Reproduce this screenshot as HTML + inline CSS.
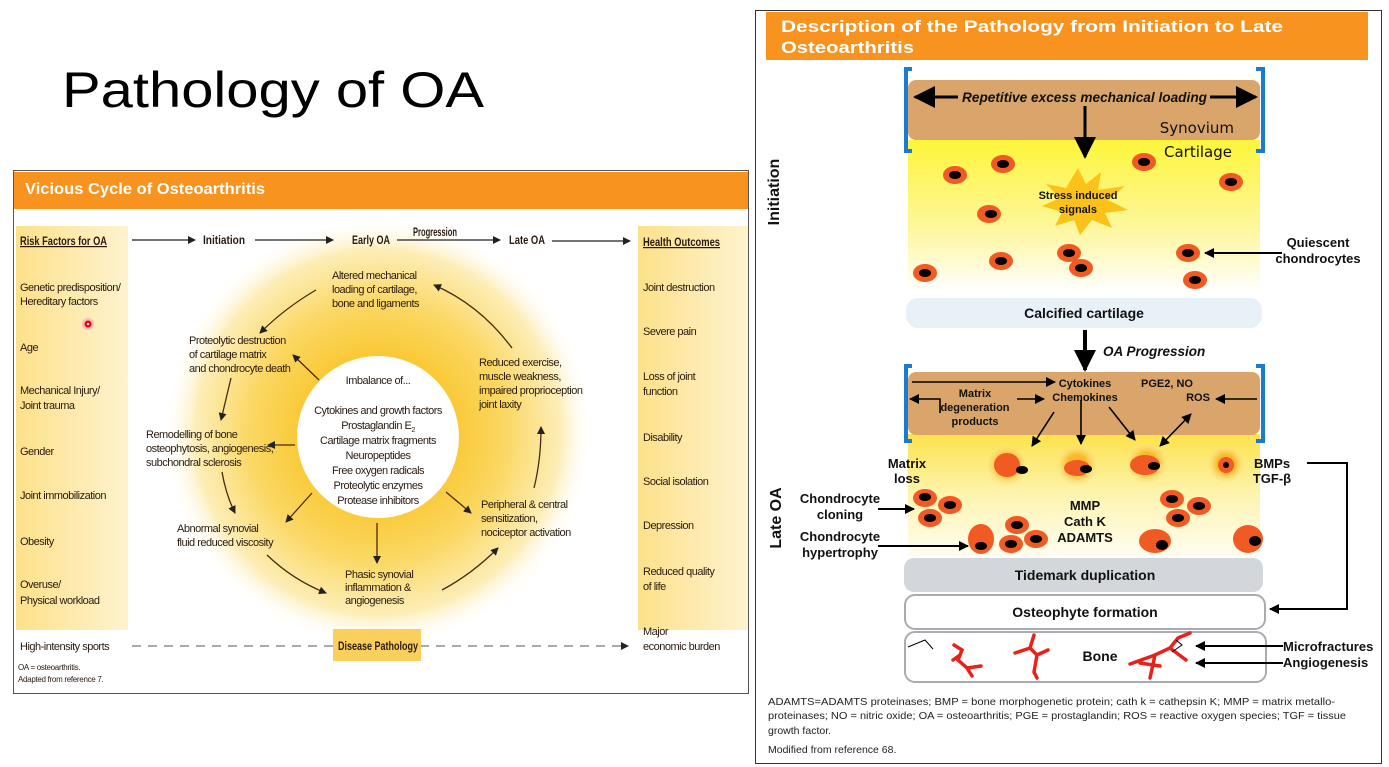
<!DOCTYPE html>
<html><head><meta charset="utf-8"><style>
html,body{margin:0;padding:0;background:#fff;width:1389px;height:767px;overflow:hidden}
svg{display:block}
.n{font-family:"Liberation Sans Narrow","Liberation Sans",sans-serif;font-size:11px;letter-spacing:-0.5px;fill:#2a1a10}
.b{font-family:"Liberation Sans",sans-serif;font-weight:bold;fill:#111}
</style></head><body>
<svg width="1389" height="767" viewBox="0 0 1389 767" xmlns="http://www.w3.org/2000/svg">
<defs>
<radialGradient id="glow" cx="0.5" cy="0.5" r="0.5">
<stop offset="0.3" stop-color="#f9c52a"/><stop offset="0.6" stop-color="#fbd865"/><stop offset="0.85" stop-color="#fdeeb8"/><stop offset="1" stop-color="#fff" stop-opacity="0"/>
</radialGradient>
<linearGradient id="col" x1="0" x2="1"><stop offset="0" stop-color="#fde18a"/><stop offset="1" stop-color="#fef3cf"/></linearGradient>
<linearGradient id="cart" x1="0" y1="0" x2="0" y2="1"><stop offset="0" stop-color="#fdf53a"/><stop offset="0.6" stop-color="#fdf7a0"/><stop offset="1" stop-color="#fff"/></linearGradient>
<linearGradient id="cart2" x1="0" y1="0" x2="0" y2="1"><stop offset="0" stop-color="#fde24a"/><stop offset="0.5" stop-color="#fdf4b0"/><stop offset="1" stop-color="#fffdf0"/></linearGradient>
<radialGradient id="halo"><stop offset="0.5" stop-color="#f9b92a"/><stop offset="1" stop-color="#fde38a" stop-opacity="0.3"/></radialGradient>
<marker id="a" markerWidth="8" markerHeight="8" refX="7" refY="4" orient="auto" markerUnits="userSpaceOnUse"><path d="M0,0 L8,4 L0,8 z" fill="#222"/></marker>
<marker id="ab" markerWidth="10" markerHeight="10" refX="9" refY="5" orient="auto" markerUnits="userSpaceOnUse"><path d="M0,0 L10,5 L0,10 z" fill="#000"/></marker>
<marker id="ab2" markerWidth="10" markerHeight="10" refX="1" refY="5" orient="auto" markerUnits="userSpaceOnUse"><path d="M10,0 L0,5 L10,10 z" fill="#000"/></marker>
<marker id="big" markerWidth="22" markerHeight="22" refX="20" refY="11" orient="auto" markerUnits="userSpaceOnUse"><path d="M0,0 L22,11 L0,22 z" fill="#000"/></marker>
</defs>

<text x="62" y="107" font-family="Liberation Sans,sans-serif" font-size="50" fill="#000" textLength="422" lengthAdjust="spacingAndGlyphs">Pathology of OA</text>

<!-- LEFT PANEL -->
<rect x="13.5" y="170.5" width="735" height="523" fill="#fff" stroke="#555"/>
<rect x="14" y="172" width="734" height="37" fill="#f7931e"/>
<text x="25" y="194" class="b" font-size="16" style="fill:#fff" textLength="240" lengthAdjust="spacingAndGlyphs">Vicious Cycle of Osteoarthritis</text>
<rect x="16" y="226" width="112" height="404" fill="url(#col)"/>
<rect x="638" y="226" width="110" height="404" fill="url(#col)"/>
<circle cx="378" cy="432" r="215" fill="url(#glow)"/>
<circle cx="378" cy="437" r="81" fill="#fff"/>
<circle cx="88" cy="324" r="6" fill="#fbb"/><circle cx="88" cy="324" r="3.5" fill="#e00"/><circle cx="88" cy="324" r="1.3" fill="#fdd"/>

<g class="n" font-weight="bold" style="letter-spacing:0;font-size:12px">
<text x="20" y="245" text-decoration="underline" textLength="87" lengthAdjust="spacingAndGlyphs">Risk Factors for OA</text>
<text x="203" y="244" textLength="42" lengthAdjust="spacingAndGlyphs">Initiation</text>
<text x="352" y="244" textLength="38" lengthAdjust="spacingAndGlyphs">Early OA</text>
<text x="413" y="236" textLength="44" lengthAdjust="spacingAndGlyphs">Progression</text>
<text x="509" y="244" textLength="36" lengthAdjust="spacingAndGlyphs">Late OA</text>
<text x="643" y="246" text-decoration="underline" textLength="77" lengthAdjust="spacingAndGlyphs">Health Outcomes</text>
</g>
<g stroke="#222" stroke-width="1.2" marker-end="url(#a)">
<line x1="132" y1="240" x2="195" y2="240"/><line x1="255" y1="240" x2="333" y2="240"/>
<line x1="397" y1="240" x2="500" y2="240"/><line x1="552" y1="241" x2="630" y2="241"/>
</g>
<g class="n">
<text x="20" y="291">Genetic predisposition/</text><text x="20" y="305">Hereditary factors</text>
<text x="20" y="351">Age</text>
<text x="20" y="394">Mechanical Injury/</text><text x="20" y="409">Joint trauma</text>
<text x="20" y="455">Gender</text>
<text x="20" y="499">Joint immobilization</text>
<text x="20" y="545">Obesity</text>
<text x="20" y="588">Overuse/</text><text x="20" y="604">Physical workload</text>
<text x="20" y="650">High-intensity sports</text>
<text x="643" y="291">Joint destruction</text>
<text x="643" y="335">Severe pain</text>
<text x="643" y="380">Loss of joint</text><text x="643" y="395">function</text>
<text x="643" y="441">Disability</text>
<text x="643" y="485">Social isolation</text>
<text x="643" y="529">Depression</text>
<text x="643" y="575">Reduced quality</text><text x="643" y="590">of life</text>
<text x="643" y="635">Major</text><text x="643" y="650">economic burden</text>
<text x="332" y="279">Altered mechanical</text><text x="332" y="293">loading of cartilage,</text><text x="332" y="307">bone and ligaments</text>
<text x="189" y="344">Proteolytic destruction</text><text x="189" y="358">of cartilage matrix</text><text x="189" y="372">and chondrocyte death</text>
<text x="146" y="438">Remodelling of bone</text><text x="146" y="452">osteophytosis, angiogenesis,</text><text x="146" y="466">subchondral sclerosis</text>
<text x="177" y="532">Abnormal synovial</text><text x="177" y="546">fluid reduced viscosity</text>
<text x="345" y="578">Phasic synovial</text><text x="345" y="591">inflammation &amp;</text><text x="345" y="604">angiogenesis</text>
<text x="481" y="508">Peripheral &amp; central</text><text x="481" y="522">sensitization,</text><text x="481" y="536">nociceptor activation</text>
<text x="479" y="366">Reduced exercise,</text><text x="479" y="380">muscle weakness,</text><text x="479" y="394">impaired proprioception</text><text x="479" y="408">joint laxity</text>
</g>
<g class="n" text-anchor="middle">
<text x="378" y="384">Imbalance of...</text>
<text x="378" y="414">Cytokines and growth factors</text>
<text x="378" y="429">Prostaglandin E<tspan style="font-size:7px" dy="3">2</tspan></text>
<text x="378" y="444">Cartilage matrix fragments</text>
<text x="378" y="459">Neuropeptides</text>
<text x="378" y="474">Free oxygen radicals</text>
<text x="378" y="489">Proteolytic enzymes</text>
<text x="378" y="504">Protease inhibitors</text>
</g>
<g stroke="#4a2a10" stroke-width="1.3" fill="none" marker-end="url(#a)">
<path d="M316,290 Q285,308 260,333"/>
<path d="M231,378 L221,420"/>
<path d="M222,472 Q226,495 235,513"/>
<path d="M267,555 Q293,580 326,593"/>
<path d="M442,590 Q472,574 498,548"/>
<path d="M534,488 Q541,460 541,427"/>
<path d="M512,348 Q480,305 434,285"/>
<path d="M319,380 L293,355"/><path d="M295,445 L268,445"/><path d="M312,493 L286,522"/>
<path d="M377,523 L377,563"/><path d="M446,492 L471,513"/>
</g>
<line x1="132" y1="646" x2="628" y2="646" stroke="#777" stroke-width="1.3" stroke-dasharray="9,7" marker-end="url(#a)"/>
<rect x="333" y="629" width="88" height="32" fill="#fbcf5c"/>
<text x="338" y="650" class="n" font-weight="bold" style="letter-spacing:0;font-size:12px" textLength="80" lengthAdjust="spacingAndGlyphs">Disease Pathology</text>
<text x="18" y="670" class="n" style="letter-spacing:-0.3px;font-size:8px">OA = osteoarthritis.</text>
<text x="18" y="682" class="n" style="letter-spacing:-0.3px;font-size:8px">Adapted from reference 7.</text>

<!-- RIGHT PANEL -->
<rect x="755.5" y="10.5" width="626" height="753" fill="#fff" stroke="#333"/>
<rect x="766" y="12" width="602" height="48" fill="#f7931e"/>
<text x="781" y="32" class="b" font-size="17" style="fill:#fff" textLength="502" lengthAdjust="spacingAndGlyphs">Description of the Pathology from Initiation to Late</text>
<text x="781" y="53" class="b" font-size="17" style="fill:#fff" textLength="133" lengthAdjust="spacingAndGlyphs">Osteoarthritis</text>

<rect x="908" y="140" width="352" height="152" fill="url(#cart)"/>
<rect x="908" y="80" width="352" height="60" rx="8" fill="#d9a56a"/>
<path d="M912,69 H906 V151 H912 M1256,69 H1263 V151 H1256" fill="none" stroke="#1c7ad0" stroke-width="4"/>
<text x="962" y="102" class="b" font-size="14" font-style="italic" textLength="245" lengthAdjust="spacingAndGlyphs">Repetitive excess mechanical loading</text>
<line x1="958" y1="97" x2="915" y2="97" stroke="#000" stroke-width="3" marker-end="url(#big)"/>
<line x1="1210" y1="97" x2="1256" y2="97" stroke="#000" stroke-width="3" marker-end="url(#big)"/>
<line x1="1085" y1="106" x2="1085" y2="157" stroke="#000" stroke-width="3" marker-end="url(#big)"/>
<text x="1234" y="133" font-family="DejaVu Sans,sans-serif" font-size="15" text-anchor="end" fill="#111">Synovium</text>
<text x="1232" y="157" font-family="DejaVu Sans,sans-serif" font-size="15" text-anchor="end" fill="#111">Cartilage</text>
<path d="M1078,168 L1086,184 L1101,172 L1098,190 L1125,186 L1108,200 L1128,210 L1105,213 L1112,228 L1092,220 L1080,235 L1074,220 L1055,226 L1062,212 L1042,206 L1060,198 L1046,184 L1066,188 Z" fill="#fbc21a"/>
<text x="1078" y="199" class="b" font-size="11" text-anchor="middle">Stress induced</text>
<text x="1078" y="213" class="b" font-size="11" text-anchor="middle">signals</text>
<g fill="#f15a22">
<ellipse cx="955" cy="175" rx="12" ry="9"/><ellipse cx="1003" cy="164" rx="12" ry="9"/><ellipse cx="1144" cy="162" rx="12" ry="9"/><ellipse cx="1231" cy="182" rx="12" ry="9"/><ellipse cx="989" cy="214" rx="12" ry="9"/><ellipse cx="1001" cy="261" rx="12" ry="9"/><ellipse cx="1069" cy="253" rx="12" ry="9"/><ellipse cx="1081" cy="268" rx="12" ry="9"/><ellipse cx="1188" cy="253" rx="12" ry="9"/><ellipse cx="1195" cy="280" rx="12" ry="9"/><ellipse cx="925" cy="273" rx="12" ry="9"/>
</g>
<g fill="#000">
<ellipse cx="955" cy="175" rx="6" ry="4"/><ellipse cx="1003" cy="164" rx="6" ry="4"/><ellipse cx="1144" cy="162" rx="6" ry="4"/><ellipse cx="1231" cy="182" rx="6" ry="4"/><ellipse cx="991" cy="214" rx="6" ry="4"/><ellipse cx="1001" cy="261" rx="6" ry="4"/><ellipse cx="1069" cy="253" rx="6" ry="4"/><ellipse cx="1081" cy="268" rx="6" ry="4"/><ellipse cx="1188" cy="253" rx="6" ry="4"/><ellipse cx="1195" cy="280" rx="6" ry="4"/><ellipse cx="925" cy="273" rx="6" ry="4"/>
</g>
<text x="779" y="192" class="b" font-size="16" text-anchor="middle" transform="rotate(-90 779 192)">Initiation</text>
<line x1="1282" y1="253" x2="1205" y2="253" stroke="#000" stroke-width="2" marker-end="url(#ab)"/>
<text x="1318" y="247" class="b" font-size="13" text-anchor="middle">Quiescent</text>
<text x="1318" y="263" class="b" font-size="13" text-anchor="middle">chondrocytes</text>

<rect x="906" y="298" width="356" height="30" rx="12" fill="#e8f0f8"/>
<text x="1084" y="318" class="b" font-size="14" text-anchor="middle">Calcified cartilage</text>
<line x1="1085" y1="330" x2="1085" y2="370" stroke="#000" stroke-width="4" marker-end="url(#big)"/>
<text x="1103" y="356" class="b" font-size="13.5" font-style="italic">OA Progression</text>

<rect x="908" y="434" width="352" height="122" fill="url(#cart2)"/>
<rect x="908" y="372" width="352" height="63" rx="8" fill="#d9a56a"/>
<path d="M912,366 H906 V441 H912 M1256,366 H1263 V441 H1256" fill="none" stroke="#1c7ad0" stroke-width="4"/>
<g class="b" font-size="11" text-anchor="middle">
<text x="1085" y="387">Cytokines</text><text x="1085" y="401">Chemokines</text>
<text x="975" y="397">Matrix</text><text x="975" y="411">degeneration</text><text x="975" y="425">products</text>
<text x="1167" y="387">PGE2, NO</text><text x="1198" y="401">ROS</text>
</g>
<g stroke="#000" stroke-width="1.6" fill="none" marker-end="url(#ab)">
<line x1="912" y1="382" x2="1055" y2="382"/>
<line x1="1017" y1="399" x2="1044" y2="399"/>
<path d="M940,413 V399 H910"/>
<line x1="1257" y1="399" x2="1216" y2="399"/>
<line x1="1054" y1="412" x2="1032" y2="446"/>
<line x1="1081" y1="400" x2="1081" y2="444"/>
<line x1="1109" y1="407" x2="1135" y2="440"/>
<line x1="1160" y1="446" x2="1191" y2="414" marker-start="url(#ab2)"/>
</g>
<g class="b" font-size="13" text-anchor="middle">
<text x="907" y="468">Matrix</text><text x="907" y="483">loss</text>
<text x="1272" y="468">BMPs</text><text x="1272" y="483">TGF-β</text>
<text x="1085" y="510">MMP</text><text x="1085" y="526">Cath K</text><text x="1085" y="542">ADAMTS</text>
<text x="840" y="503">Chondrocyte</text><text x="840" y="519">cloning</text>
<text x="840" y="541">Chondrocyte</text><text x="840" y="557">hypertrophy</text>
</g>
<g fill="url(#halo)"><circle cx="1007" cy="465" r="20"/><circle cx="1077" cy="465" r="20"/><circle cx="1147" cy="463" r="20"/><circle cx="1226" cy="464" r="18"/></g>
<g fill="#f15a22">
<ellipse cx="1007" cy="465" rx="13" ry="12"/><ellipse cx="1077" cy="468" rx="13" ry="8"/><ellipse cx="1145" cy="465" rx="15" ry="10"/><ellipse cx="1226" cy="465" rx="8" ry="8"/>
<ellipse cx="925" cy="498" rx="12" ry="9"/><ellipse cx="950" cy="505" rx="12" ry="9"/><ellipse cx="930" cy="518" rx="12" ry="9"/><ellipse cx="1017" cy="525" rx="12" ry="9"/><ellipse cx="1011" cy="544" rx="12" ry="9"/><ellipse cx="1036" cy="539" rx="12" ry="9"/><ellipse cx="981" cy="539" rx="13" ry="15"/>
<ellipse cx="1172" cy="499" rx="12" ry="9"/><ellipse cx="1199" cy="506" rx="12" ry="9"/><ellipse cx="1178" cy="518" rx="12" ry="9"/><ellipse cx="1155" cy="541" rx="16" ry="12"/><ellipse cx="1248" cy="539" rx="15" ry="14"/>
</g>
<g fill="#000">
<ellipse cx="1022" cy="470" rx="6" ry="4"/><ellipse cx="1086" cy="469" rx="6" ry="4"/><ellipse cx="1154" cy="466" rx="6" ry="4"/><ellipse cx="1226" cy="465" rx="3" ry="3"/>
<ellipse cx="925" cy="497" rx="6" ry="4"/><ellipse cx="950" cy="505" rx="6" ry="4"/><ellipse cx="930" cy="518" rx="6" ry="4"/><ellipse cx="1017" cy="525" rx="6" ry="4"/><ellipse cx="1011" cy="544" rx="6" ry="4"/><ellipse cx="1036" cy="539" rx="6" ry="4"/><ellipse cx="981" cy="546" rx="6" ry="4"/>
<ellipse cx="1172" cy="499" rx="6" ry="4"/><ellipse cx="1199" cy="506" rx="6" ry="4"/><ellipse cx="1178" cy="518" rx="6" ry="4"/><ellipse cx="1162" cy="545" rx="6" ry="5"/><ellipse cx="1255" cy="541" rx="6" ry="5"/>
</g>
<g stroke="#000" stroke-width="2" marker-end="url(#ab)">
<line x1="878" y1="509" x2="914" y2="509"/><line x1="878" y1="546" x2="968" y2="546"/>
</g>
<text x="781" y="518" class="b" font-size="16" text-anchor="middle" transform="rotate(-90 781 518)">Late OA</text>
<rect x="904" y="558" width="359" height="34" rx="10" fill="#d3d6db"/>
<text x="1085" y="580" class="b" font-size="14" text-anchor="middle">Tidemark duplication</text>
<rect x="905" y="595" width="360" height="34" rx="10" fill="#fff" stroke="#a8abb0" stroke-width="2"/>
<text x="1085" y="617" class="b" font-size="14" text-anchor="middle">Osteophyte formation</text>
<rect x="905" y="632" width="361" height="50" rx="10" fill="#fff" stroke="#a8abb0" stroke-width="2"/>
<text x="1100" y="661" class="b" font-size="14" text-anchor="middle">Bone</text>
<path d="M908,647 L925,640 L933,649" fill="none" stroke="#000" stroke-width="1"/>
<g stroke="#e8211a" stroke-width="3.5" fill="none" stroke-linecap="round">
<path d="M954,645 L962,650 L958,660 L967,668 L972,676"/><path d="M967,668 L981,666"/><path d="M960,655 L953,660"/>
<path d="M1034,635 L1030,648 L1037,655 L1034,672 L1037,678"/><path d="M1030,648 L1015,653"/><path d="M1037,655 L1048,650"/>
<path d="M1130,664 L1155,655 L1170,648 L1178,638 L1190,633"/><path d="M1155,655 L1150,678"/><path d="M1170,648 L1186,660"/><path d="M1140,663 L1160,666"/>
</g>
<path d="M1172,652 L1182,645 L1176,640" fill="none" stroke="#000" stroke-width="1"/>
<g stroke="#000" stroke-width="2" marker-end="url(#ab)">
<line x1="1283" y1="646" x2="1196" y2="646"/><line x1="1283" y1="663" x2="1196" y2="663"/>
</g>
<path d="M1307,463 H1347 V609 H1270" fill="none" stroke="#000" stroke-width="2" marker-end="url(#ab)"/>
<text x="1283" y="651" class="b" font-size="13">Microfractures</text>
<text x="1283" y="667" class="b" font-size="13">Angiogenesis</text>
<g font-family="Liberation Sans,sans-serif" font-size="10.5" fill="#222">
<text x="768" y="705" textLength="567" lengthAdjust="spacingAndGlyphs">ADAMTS=ADAMTS proteinases; BMP = bone morphogenetic protein; cath k = cathepsin K; MMP = matrix metallo-</text>
<text x="768" y="719" textLength="578" lengthAdjust="spacingAndGlyphs">proteinases; NO = nitric oxide; OA = osteoarthritis; PGE = prostaglandin; ROS = reactive oxygen species; TGF = tissue</text>
<text x="768" y="734">growth factor.</text>
<text x="768" y="753">Modified from reference 68.</text>
</g>
</svg>
</body></html>
